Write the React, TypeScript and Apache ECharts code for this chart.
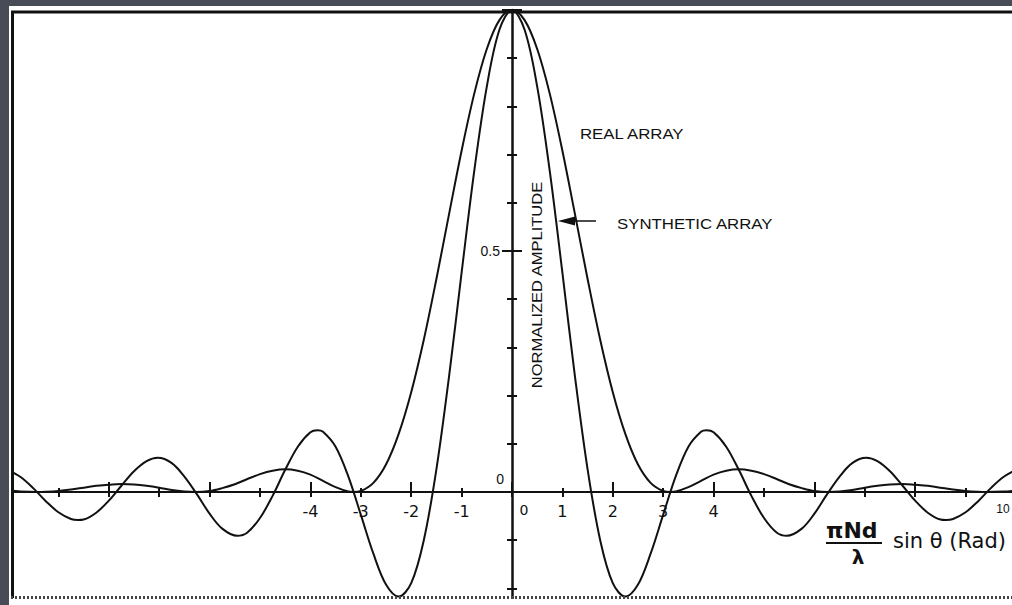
import React, { useEffect, useRef } from "react";
import * as echarts from "echarts";

// [πNd/λ · sinθ (rad), normalized amplitude] — real array
const realArray: [number, number][] = [
  [-10, 0.003], [-9.75, 0.001], [-9.42, 0], [-9.25, 0.0004], [-9, 0.002], [-8.75, 0.005],
  [-8.5, 0.009], [-8.25, 0.013], [-8, 0.015], [-7.75, 0.0165], [-7.5, 0.0156], [-7.25, 0.013],
  [-7, 0.009], [-6.75, 0.004], [-6.5, 0.001], [-6.28, 0], [-6, 0.002], [-5.75, 0.008],
  [-5.5, 0.016], [-5.25, 0.027], [-5, 0.037], [-4.75, 0.044], [-4.5, 0.047], [-4.25, 0.044],
  [-4, 0.036], [-3.75, 0.023], [-3.5, 0.01], [-3.25, 0.001], [-3.14, 0], [-3, 0.002],
  [-2.75, 0.019], [-2.5, 0.057], [-2.25, 0.12], [-2, 0.207], [-1.75, 0.316], [-1.5, 0.442],
  [-1.25, 0.576], [-1, 0.708], [-0.75, 0.826], [-0.5, 0.919], [-0.25, 0.979],
  [0, 1.0],
  [0.25, 0.979], [0.5, 0.919], [0.75, 0.826], [1, 0.708], [1.25, 0.576], [1.5, 0.442],
  [1.75, 0.316], [2, 0.207], [2.25, 0.12], [2.5, 0.057], [2.75, 0.019], [3, 0.002], [3.14, 0],
  [3.25, 0.001], [3.5, 0.01], [3.75, 0.023], [4, 0.036], [4.25, 0.044], [4.5, 0.047],
  [4.75, 0.044], [5, 0.037], [5.25, 0.027], [5.5, 0.016], [5.75, 0.008], [6, 0.002], [6.28, 0],
  [6.5, 0.001], [6.75, 0.004], [7, 0.009], [7.25, 0.013], [7.5, 0.0156], [7.75, 0.0165],
  [8, 0.015], [8.25, 0.013], [8.5, 0.009], [8.75, 0.005], [9, 0.002], [9.25, 0.0004], [9.42, 0],
  [9.75, 0.001], [10, 0.003],
];

// [πNd/λ · sinθ (rad), normalized amplitude] — synthetic array
const syntheticArray: [number, number][] = [
  [-10, 0.046], [-9.75, 0.031], [-9.5, 0.008], [-9.25, -0.019], [-9, -0.042], [-8.75, -0.056],
  [-8.61, -0.058], [-8.5, -0.057], [-8.25, -0.043], [-8, -0.018], [-7.75, 0.013], [-7.5, 0.043],
  [-7.25, 0.064], [-7.03, 0.071], [-6.75, 0.06], [-6.5, 0.032], [-6.25, -0.005], [-6, -0.045],
  [-5.75, -0.076], [-5.45, -0.091], [-5.25, -0.084], [-5, -0.054], [-4.75, -0.008], [-4.5, 0.046],
  [-4.25, 0.094], [-4, 0.124], [-3.86, 0.128], [-3.75, 0.125], [-3.5, 0.094], [-3.25, 0.033],
  [-3, -0.047], [-2.75, -0.128], [-2.5, -0.192], [-2.25, -0.217], [-2, -0.189], [-1.75, -0.1],
  [-1.5, 0.047], [-1.25, 0.239], [-1, 0.455], [-0.75, 0.665], [-0.5, 0.841], [-0.25, 0.959],
  [0, 1.0],
  [0.25, 0.959], [0.5, 0.841], [0.75, 0.665], [1, 0.455], [1.25, 0.239], [1.5, 0.047],
  [1.75, -0.1], [2, -0.189], [2.25, -0.217], [2.5, -0.192], [2.75, -0.128], [3, -0.047],
  [3.25, 0.033], [3.5, 0.094], [3.75, 0.125], [3.86, 0.128], [4, 0.124], [4.25, 0.094],
  [4.5, 0.046], [4.75, -0.008], [5, -0.054], [5.25, -0.084], [5.45, -0.091], [5.75, -0.076],
  [6, -0.045], [6.25, -0.005], [6.5, 0.032], [6.75, 0.06], [7.03, 0.071], [7.25, 0.064],
  [7.5, 0.043], [7.75, 0.013], [8, -0.018], [8.25, -0.043], [8.5, -0.057], [8.61, -0.058],
  [8.75, -0.056], [9, -0.042], [9.25, -0.019], [9.5, 0.008], [9.75, 0.031], [10, 0.046],
];

// Tick labels written on the axes
const xTickLabels = [-4, -3, -2, -1, 0, 1, 2, 3, 4, 10];
const yTickLabels = [0, 0.5];

const INK = "#111111";
const HAND = "'DejaVu Sans', sans-serif";
const TYPE = "'Liberation Sans', Arial, sans-serif";

// Plot box in pixels: u = -10..10 across, amplitude -0.5..1 down
const GRID_LEFT = 8;
const GRID_RIGHT = -4;
const GRID_TOP = 10;
const GRID_BOTTOM = -128;
const PAGE_W = 1012;
const PAGE_H = 605;
const X_MIN = -10;
const X_MAX = 10;
const Y_MIN = -0.5;
const Y_MAX = 1;

const plotW = PAGE_W - GRID_LEFT - GRID_RIGHT;
const plotH = PAGE_H - GRID_TOP - GRID_BOTTOM;
// distance from each grid edge to the zero lines, used to pull the axes into the middle
const zeroFromLeft = ((0 - X_MIN) / (X_MAX - X_MIN)) * plotW;
const zeroFromRight = plotW - zeroFromLeft;
const zeroFromTop = ((Y_MAX - 0) / (Y_MAX - Y_MIN)) * plotH;
const zeroFromBottom = plotH - zeroFromTop;

function xLabel(v: number): string {
  const r = Math.round(v);
  if (Math.abs(v - r) > 1e-6 || !xTickLabels.includes(r)) return "";
  if (r === 0) return "{z|0}";
  if (r === 10) return "{t|10}";
  return String(r);
}

function yLabel(v: number): string {
  const r = Math.round(v * 10) / 10;
  if (!yTickLabels.includes(r)) return "";
  if (r === 0) return "{o|0}";
  return "{h|0.5}";
}

const tickLine = { color: INK, width: 2 };

export default function App() {
  const ref = useRef<HTMLDivElement>(null);

  useEffect(() => {
    if (!ref.current) return;
    const chart = echarts.init(ref.current, undefined, { renderer: "svg" });

    const lineSeries = (name: string, data: [number, number][]) => ({
      type: "line",
      name,
      xAxisIndex: 0,
      yAxisIndex: 0,
      data,
      smooth: 0.35,
      showSymbol: false,
      symbol: "none",
      clip: true,
      lineStyle: { color: INK, width: 2 },
      z: 3,
    });

    chart.setOption({
      animation: false,
      backgroundColor: "#ffffff",
      grid: {
        left: GRID_LEFT,
        right: GRID_RIGHT,
        top: GRID_TOP,
        bottom: GRID_BOTTOM,
        containLabel: false,
        outerBoundsMode: "none",
      },
      xAxis: [
        {
          type: "value",
          min: X_MIN,
          max: X_MAX,
          interval: 1,
          position: "bottom",
          offset: -zeroFromBottom,
          splitLine: { show: false },
          axisLine: { show: true, onZero: false, lineStyle: { color: INK, width: 2 } },
          axisTick: { show: true, inside: false, length: 5, lineStyle: tickLine },
          axisLabel: {
            show: true,
            margin: 11,
            color: INK,
            fontFamily: HAND,
            fontSize: 16,
            formatter: xLabel,
            rich: {
              z: { padding: [0, 0, 0, 24], fontFamily: HAND, fontSize: 14, color: INK },
              t: { padding: [0, 26, 0, 0], fontFamily: TYPE, fontSize: 12, color: INK },
            },
          },
        },
        {
          type: "value",
          min: X_MIN,
          max: X_MAX,
          interval: 2,
          position: "top",
          offset: -zeroFromTop,
          splitLine: { show: false },
          axisLine: { show: false, onZero: false },
          axisTick: { show: true, inside: false, length: 10, lineStyle: tickLine },
          minorTick: { show: true, splitNumber: 2, length: 4, lineStyle: tickLine },
          axisLabel: { show: false },
        },
      ],
      yAxis: [
        {
          type: "value",
          min: Y_MIN,
          max: Y_MAX,
          interval: 0.5,
          position: "left",
          offset: -zeroFromLeft,
          splitLine: { show: false },
          axisLine: { show: true, onZero: false, lineStyle: { color: INK, width: 2.5 } },
          axisTick: { show: true, inside: false, length: 10, lineStyle: tickLine },
          minorTick: { show: true, splitNumber: 5, length: 5, lineStyle: tickLine },
          axisLabel: {
            show: true,
            margin: 8,
            color: INK,
            fontFamily: TYPE,
            fontSize: 14,
            formatter: yLabel,
            rich: {
              h: { padding: [0, 4, 0, 0], fontFamily: TYPE, fontSize: 14, color: INK },
              o: { padding: [0, 0, 26, 0], fontFamily: TYPE, fontSize: 14, color: INK },
            },
          },
        },
        {
          type: "value",
          min: Y_MIN,
          max: Y_MAX,
          interval: 0.5,
          position: "right",
          offset: -zeroFromRight,
          splitLine: { show: false },
          axisLine: { show: false, onZero: false },
          axisTick: { show: true, inside: false, length: 10, lineStyle: tickLine },
          minorTick: { show: true, splitNumber: 5, length: 5, lineStyle: tickLine },
          axisLabel: { show: false },
        },
      ],
      series: [lineSeries("REAL ARRAY", realArray), lineSeries("SYNTHETIC ARRAY", syntheticArray)],
      graphic: [
        // scanner edge around the sheet
        { type: "rect", z: 100, shape: { x: 0, y: 0, width: 1012, height: 6 }, style: { fill: "#474c57" } },
        { type: "rect", z: 100, shape: { x: 0, y: 0, width: 9, height: 605 }, style: { fill: "#474c57" } },
        { type: "rect", z: 99, shape: { x: 9, y: 6, width: 3, height: 599 }, style: { fill: "#ffffff" } },
        // plot frame
        { type: "line", z: 101, shape: { x1: 11, y1: 12, x2: 1012, y2: 12 }, style: { stroke: INK, lineWidth: 3 } },
        { type: "line", z: 101, shape: { x1: 12.5, y1: 11, x2: 12.5, y2: 598 }, style: { stroke: INK, lineWidth: 3 } },
        { type: "rect", z: 100, shape: { x: 9, y: 599, width: 1003, height: 6 }, style: { fill: "#ffffff" } },
        {
          type: "line",
          z: 101,
          shape: { x1: 11, y1: 597.5, x2: 1012, y2: 597.5 },
          style: { stroke: "#444", lineWidth: 3, lineDash: [2, 2] },
        },
        // curve annotations
        {
          type: "text",
          z: 102,
          x: 580,
          y: 134,
          scaleX: 1.2,
          style: { text: "REAL ARRAY", fill: INK, font: `14px ${TYPE}`, align: "left", verticalAlign: "middle" },
        },
        {
          type: "text",
          z: 102,
          x: 617,
          y: 224,
          scaleX: 1.2,
          style: { text: "SYNTHETIC ARRAY", fill: INK, font: `14px ${TYPE}`, align: "left", verticalAlign: "middle" },
        },
        { type: "line", z: 102, shape: { x1: 572, y1: 221, x2: 596, y2: 221 }, style: { stroke: INK, lineWidth: 1.5 } },
        {
          type: "polygon",
          z: 102,
          shape: { points: [[558, 221], [575, 216.5], [575, 225.5]] },
          style: { fill: INK },
        },
        // y axis title
        {
          type: "text",
          z: 102,
          x: 537,
          y: 285,
          rotation: Math.PI / 2,
          scaleX: 1.18,
          style: {
            text: "NORMALIZED AMPLITUDE",
            fill: INK,
            font: `14px ${TYPE}`,
            align: "center",
            verticalAlign: "middle",
          },
        },
        // x axis title
        {
          type: "text",
          z: 102,
          x: 826,
          y: 530,
          style: { text: "πNd", fill: INK, font: `600 22px ${HAND}`, align: "left", verticalAlign: "middle" },
        },
        { type: "line", z: 102, shape: { x1: 826, y1: 543, x2: 882, y2: 543 }, style: { stroke: INK, lineWidth: 2 } },
        {
          type: "text",
          z: 102,
          x: 858,
          y: 557,
          style: { text: "λ", fill: INK, font: `600 20px ${HAND}`, align: "center", verticalAlign: "middle" },
        },
        {
          type: "text",
          z: 102,
          x: 893,
          y: 541,
          style: { text: "sin θ (Rad)", fill: INK, font: `21px ${HAND}`, align: "left", verticalAlign: "middle" },
        },
      ],
    });

    return () => chart.dispose();
  }, []);

  return (
    <div
      ref={ref}
      style={{ position: "fixed", left: 0, top: 0, width: PAGE_W, height: PAGE_H, background: "#fff" }}
    />
  );
}
